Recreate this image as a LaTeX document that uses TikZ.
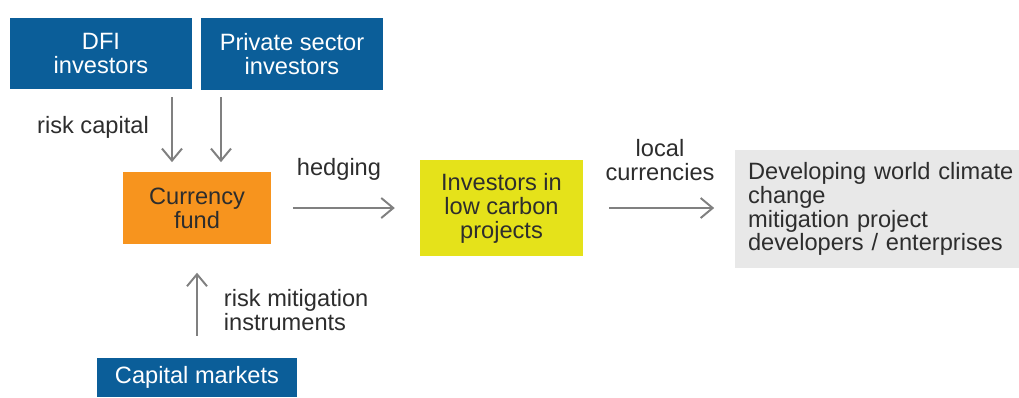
\documentclass[tikz,border=0pt]{standalone}
\usepackage{fontspec}
\setmainfont{Liberation Sans}
\usepackage{xcolor}
\usepackage{tikz}
\usetikzlibrary{arrows.meta,positioning,calc}
\definecolor{fundblue}{RGB}{11,94,153}
\definecolor{fundorange}{RGB}{247,148,30}
\definecolor{carbonyellow}{RGB}{229,226,26}
\definecolor{devgray}{RGB}{232,232,232}
\definecolor{arrowgray}{RGB}{128,128,128}
\definecolor{textdark}{RGB}{45,45,45}
\tikzset{
  % base font for every node
  every node/.append style={font=\fontsize{16.8}{17}\selectfont, text=textdark},
  % plain box
  box/.style={
    inner sep=0pt,
    align=center
  },
  % investor boxes (blue)
  investor/.style={box, fill=fundblue, text=white},
  % currency fund (orange)
  fund/.style={box, fill=fundorange},
  % low carbon investors (yellow)
  carbon/.style={box, fill=carbonyellow},
  % project developers (gray), runs past the right edge
  devbox/.style={box, fill=devgray, align=left, text width=7cm, inner xsep=0.32cm},
  % arrows
  arr/.style={-{Straight Barb[length=0.3cm,width=0.5cm]}, line width=1.4pt, arrowgray},
  arrlab/.style={align=left},
}
\begin{document}
\begin{tikzpicture}[x=0.025cm,y=-0.025cm]
  \useasboundingbox (0,0) rectangle (1019,397);

  % Investors on top
  \node[investor, minimum width=4.55cm, minimum height=1.78cm] (dfi) at (101,53.5) {DFI\\investors};
  \node[investor, minimum width=4.55cm, minimum height=1.8cm] (priv) at (292,54) {Private sector\\investors};

  % Main row
  \node[fund, minimum width=3.68cm, minimum height=1.78cm] (cur) at (197,208) {Currency\\fund};
  \node[carbon, minimum width=4.08cm, minimum height=2.4cm] (inv) at (501.5,208) {Investors in\\low carbon\\projects};
  \node[devbox, minimum height=2.95cm, anchor=west] (dev) at (735,209) {Developing world climate\\change\\mitigation project\\developers / enterprises};

  % Capital markets
  \node[investor, minimum width=4.98cm, minimum height=0.98cm] (cap) at (197,377.5) {Capital markets};

  % Arrows
  \draw[arr] ($(dfi.south)+(71,8)$) -- ($(cur.north)+(-25,-10)$);
  \draw[arr] ($(priv.south)+(-71,7)$) -- ($(cur.north)+(24,-10)$);
  \draw[arr, shorten <=0.55cm, shorten >=0.62cm] (cur.east) -- (inv.west);
  \draw[arr, shorten <=0.65cm, shorten >=0.52cm] (inv.east) -- (dev.west |- inv.east);
  \draw[arr, shorten <=0.55cm, shorten >=0.72cm] (cap.north) -- (cur.south);

  % Labels
  \node[arrlab] (lrisk) at (93,127) {risk capital};
  \node[arrlab] (lhedge) at (339,169) {hedging};
  \node[arrlab, align=center] (llocal) at (660,160) {local\\currencies};
  \node[arrlab, anchor=west] (lmit) at (219,310) {risk mitigation\\instruments};
\end{tikzpicture}
\end{document}
